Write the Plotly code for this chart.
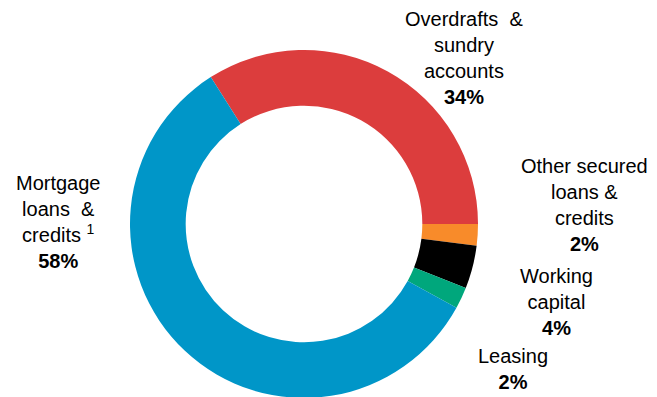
import plotly.graph_objects as go

W, H = 657, 397
OFF = 8  # page body margin shifts the figure by 8px

labels = ['Overdrafts & sundry accounts', 'Other secured loans & credits',
          'Working capital', 'Leasing', 'Mortgage loans & credits']
values = [34, 2, 4, 2, 58]
colors = ['#DC3D3D', '#F88B2A', '#000000', '#00A77C', '#0096C8']

# label text blocks drawn outside the ring
label_text = [
    'Overdrafts  &<br>sundry<br>accounts',
    'Other secured<br>loans &<br>credits',
    'Working<br>capital',
    'Leasing',
    'Mortgage<br>loans  &<br>credits <sup>1</sup>',
]
# centre of each text block, in screen pixels
label_pos = [(464, 58), (584, 205), (556, 302), (513, 369), (58, 222)]

fig = go.Figure()

fig.add_trace(go.Pie(
    labels=labels,
    values=values,
    marker=dict(colors=colors, line=dict(width=0)),
    hole=0.68,
    sort=False,
    direction='clockwise',
    rotation=-32.4,
    textinfo='none',
    hoverinfo='label+percent',
    showlegend=False,
    domain=dict(x=[(130 - OFF) / W, (478 - OFF) / W],
                y=[1 - (398 - OFF) / H, 1 - (50 - OFF) / H]),
))

for txt, val, (px, py) in zip(label_text, values, label_pos):
    fig.add_annotation(
        x=(px - OFF) / W, y=1 - (py - OFF) / H, xref='paper', yref='paper',
        xanchor='center', yanchor='middle',
        text=txt + '<br><b>' + str(val) + '%</b>',
        showarrow=False, align='center',
        font=dict(family='Liberation Sans, Arial', size=20, color='black'),
    )

fig.update_layout(
    width=W, height=H,
    margin=dict(l=0, r=0, t=0, b=0),
    paper_bgcolor='white',
    plot_bgcolor='white',
)

fig.write_html("out.html")
